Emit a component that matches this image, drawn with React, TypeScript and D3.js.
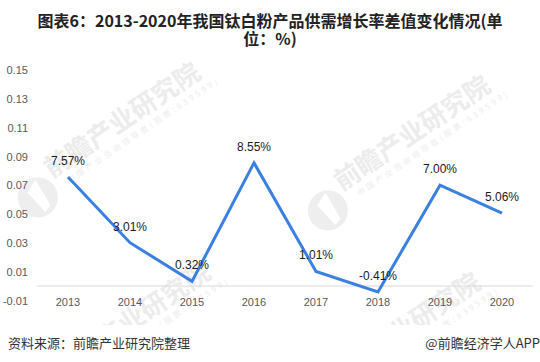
import React from 'react';
import * as d3 from 'd3';

// chart data
const years = ['2013', '2014', '2015', '2016', '2017', '2018', '2019', '2020'];
const diffValues = [0.0757, 0.0301, 0.0032, 0.0855, 0.0101, -0.0041, 0.07, 0.0506];
const valueLabels = ['7.57%', '3.01%', '0.32%', '8.55%', '1.01%', '-0.41%', '7.00%', '5.06%'];
const yTicks = [-0.01, 0.01, 0.03, 0.05, 0.07, 0.09, 0.11, 0.13, 0.15];
const yTickLabels = ['-0.01', '0.01', '0.03', '0.05', '0.07', '0.09', '0.11', '0.13', '0.15'];

const W = 540;
const H = 362;
const LINE_COLOR = '#3a80e0';
const FONT = '"Liberation Sans", Arial, sans-serif';
const CJK = '"Noto Sans CJK SC", "Noto Sans", sans-serif';

// faint "前瞻产业研究院" watermarks, text start point
const watermarks = [
  { x: 45, y: 183 },
  { x: 335, y: 196 },
  { x: 55, y: 383 },
  { x: 325, y: 393 },
];

const Watermark: React.FC<{ x: number; y: number }> = ({ x, y }) => (
  <g transform={`translate(${x},${y}) rotate(-34)`}>
    <circle cx={-14} cy={8} r={20} fill="#eeeeee" />
    <path d="M-20,-2 L-6,-8 L-8,22 L-16,24 Z" fill="#ffffff" />
    <text x={8} y={0} fontFamily={CJK} fontWeight={700} fontSize={26} fill="#ececec">
      前瞻产业研究院
    </text>
    <text x={20} y={14} fontFamily={CJK} fontSize={8} letterSpacing={3} fill="#ededed">
      中国产业咨询领导者(股票:839599)
    </text>
  </g>
);

export default function App() {
  const x = d3.scaleBand<string>().domain(years).range([37, 533]).padding(0);
  const cx = (d: string) => (x(d) ?? 0) + x.bandwidth() / 2;
  const y = d3.scaleLinear().domain([-0.01, 0.15]).range([300.4, 70]);

  const line = d3
    .line<number>()
    .x((_, i) => cx(years[i]))
    .y((d) => y(d));

  return (
    <div style={{ position: 'absolute', left: 0, top: 0 }}>
      <svg width={W} height={H} style={{ display: 'block', background: '#fff' }}>
        <defs>
          <clipPath id="plotClip">
            <rect x={0} y={55} width={W} height={270} />
          </clipPath>
        </defs>

        {/* title */}
        <text x={270} y={27} textAnchor="middle" fontFamily={CJK} fontWeight={700} fontSize={16} fill="#222">
          图表6：2013-2020年我国钛白粉产品供需增长率差值变化情况(单
        </text>
        <text x={270} y={45} textAnchor="middle" fontFamily={CJK} fontWeight={700} fontSize={16} fill="#222">
          位：%)
        </text>

        {/* watermarks */}
        <g clipPath="url(#plotClip)">
          {watermarks.map((w, i) => (
            <Watermark key={i} x={w.x} y={w.y} />
          ))}
        </g>

        {/* y tick labels */}
        {yTicks.map((t, i) => (
          <text key={i} x={28} y={y(t)} dy="0.38em" textAnchor="end" fontFamily={FONT} fontSize={11} fill="#595959">
            {yTickLabels[i]}
          </text>
        ))}

        {/* category axis at zero */}
        <line x1={37} x2={533} y1={y(0)} y2={y(0)} stroke="#d9d9d9" strokeWidth={1} />

        {/* x labels */}
        {years.map((yr) => (
          <text key={yr} x={cx(yr)} y={305.5} textAnchor="middle" fontFamily={FONT} fontSize={11} fill="#595959">
            {yr}
          </text>
        ))}

        {/* series line */}
        <path d={line(diffValues) ?? ''} fill="none" stroke={LINE_COLOR} strokeWidth={3} strokeLinejoin="miter" />

        {/* data labels */}
        {diffValues.map((v, i) => (
          <text key={i} x={cx(years[i])} y={y(v) - 12} textAnchor="middle" fontFamily={FONT} fontSize={12} fill="#1a1a1a">
            {valueLabels[i]}
          </text>
        ))}

        {/* footer */}
        <text x={8} y={348} fontFamily={CJK} fontSize={13} fill="#333">
          资料来源：前瞻产业研究院整理
        </text>
        <text x={540} y={348} textAnchor="end" fontFamily={CJK} fontSize={13} fill="#333">
          @前瞻经济学人APP
        </text>
      </svg>
    </div>
  );
}
